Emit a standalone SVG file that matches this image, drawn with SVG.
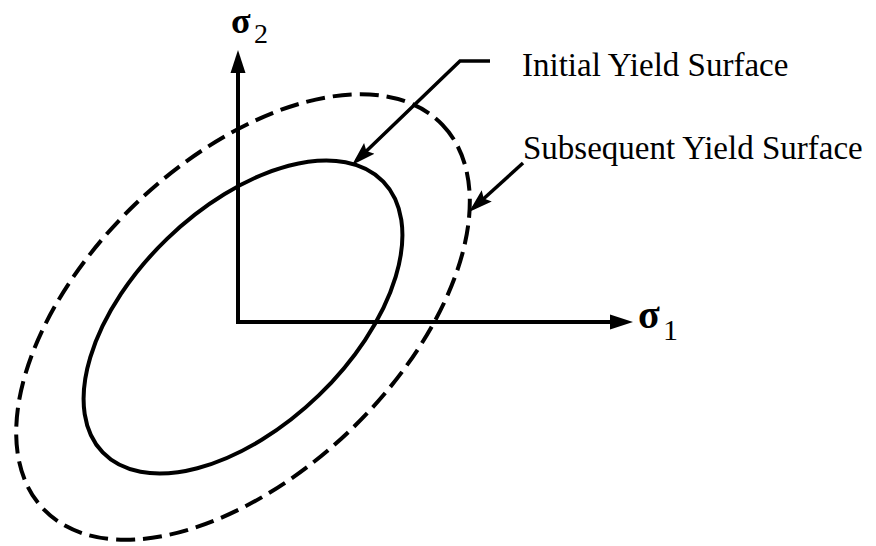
<svg xmlns="http://www.w3.org/2000/svg" width="876" height="546" viewBox="0 0 876 546">
<style>
.ax{stroke:#000;stroke-width:4;fill:none}
.ld{stroke:#000;stroke-width:3.5;fill:none;stroke-linejoin:miter}
.sol{stroke:#000;stroke-width:4;fill:none}
.dsh{stroke:#000;stroke-width:4;fill:none;stroke-dasharray:19 8}
.lbl{font-family:"Liberation Serif","Times New Roman",serif;font-size:33px;fill:#000}
.sig{font-family:"Liberation Serif","Times New Roman",serif;fill:#000}
</style>
<defs>
<marker id="axArrow" markerUnits="userSpaceOnUse" markerWidth="26" markerHeight="18" viewBox="0 -8 26 16" refX="17" refY="0" orient="auto">
<path d="M0,-7.5 L23,0 L0,7.5 Z" fill="#000"/>
</marker>
<marker id="ldArrow" markerUnits="userSpaceOnUse" markerWidth="26" markerHeight="18" viewBox="0 -8 26 16" refX="18" refY="0" orient="auto">
<path d="M0,-7.5 L24,0 L0,7.5 L4,0 Z" fill="#000"/>
</marker>
</defs>
<rect width="876" height="546" fill="#fff"/>
<g id="surfaces">
<ellipse id="subsequent-surface" class="dsh" cx="243" cy="317" rx="277" ry="156" transform="rotate(-44 243 317)"/>
<ellipse id="initial-surface" class="sol" cx="243" cy="317" rx="195" ry="109" transform="rotate(-44 243 317)"/>
</g>
<g id="axes">
<path class="ax" d="M238,322 L238,56" marker-end="url(#axArrow)"/>
<path class="ax" d="M236,322 L627,322" marker-end="url(#axArrow)"/>
</g>
<g id="connectors">
<path class="ld" d="M490,61 L460,61 L356.3,160.8" marker-end="url(#ldArrow)"/>
<path class="ld" d="M523,163 L473.4,208" marker-end="url(#ldArrow)"/>
</g>
<g id="sigma2-label">
<text class="sig" x="231" y="33" font-size="36" font-weight="bold">σ</text>
<text class="sig" x="254" y="43" font-size="28">2</text>
</g>
<g id="sigma1-label">
<text class="sig" x="638" y="328" font-size="40" font-weight="bold">σ</text>
<text class="sig" x="663" y="340" font-size="30">1</text>
</g>
<g id="initial-label">
<text class="lbl" x="522" y="76">Initial Yield Surface</text>
</g>
<g id="subsequent-label">
<text class="lbl" x="523" y="159">Subsequent Yield Surface</text>
</g>
</svg>
